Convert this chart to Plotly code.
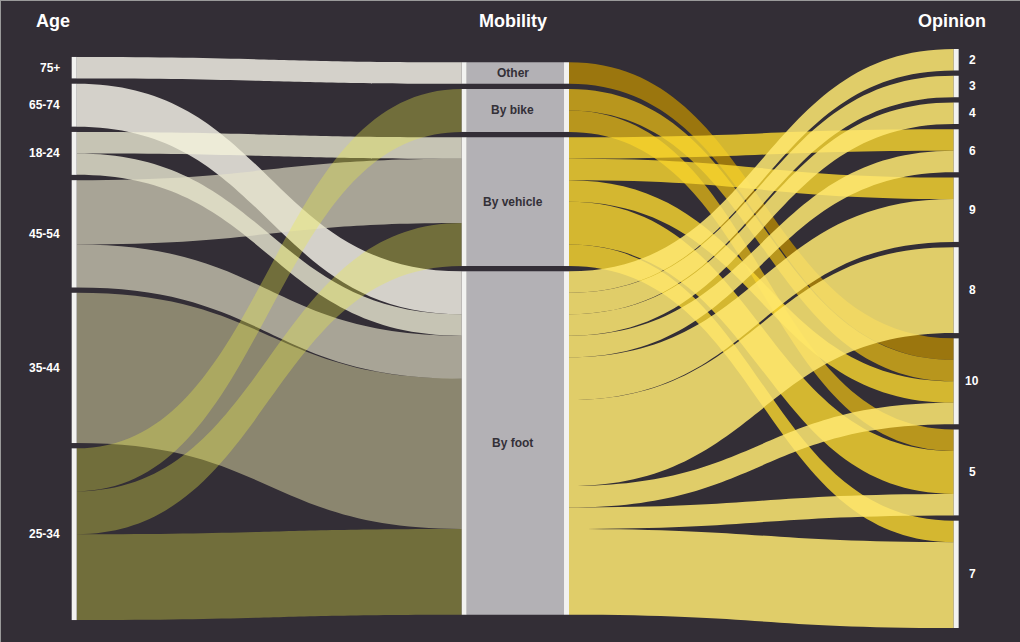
import plotly.graph_objects as go

# ---------------- data ----------------
age_labels = ["75+", "65-74", "18-24", "45-54", "35-44", "25-34"]
mobility_labels = ["Other", "By bike", "By vehicle", "By foot"]
opinion_labels = ["2", "3", "4", "6", "9", "8", "10", "5", "7"]

# Age -> Mobility flows (counts of respondents)
am_source = ["75+", "65-74", "18-24", "18-24", "45-54", "45-54", "35-44", "25-34", "25-34", "25-34"]
am_target = ["Other", "By foot", "By vehicle", "By foot", "By vehicle", "By foot", "By foot", "By bike", "By vehicle", "By foot"]
am_count = [1, 2, 1, 1, 3, 2, 7, 2, 2, 4]

# Mobility -> Opinion flows
mo_source = ["Other", "By bike", "By bike",
             "By vehicle", "By vehicle", "By vehicle", "By vehicle", "By vehicle",
             "By foot", "By foot", "By foot", "By foot", "By foot", "By foot", "By foot", "By foot", "By foot"]
mo_target = ["10", "10", "5",
             "6", "9", "10", "5", "7",
             "2", "3", "4", "6", "9", "8", "10", "5", "7"]
mo_count = [1, 1, 1,
            1, 1, 1, 2, 1,
            1, 1, 1, 1, 2, 4, 1, 1, 4]

# ---------------- styles ----------------
BG = "#332e36"
NODE_COLOR = "#f2f2f0"
MID_COLOR = "#b3b1b5"
age_colors = {
    "75+": "rgba(245,243,232,0.83)",
    "65-74": "rgba(245,243,232,0.83)",
    "18-24": "rgba(245,243,220,0.76)",
    "45-54": "rgba(230,228,201,0.655)",
    "35-44": "rgba(220,215,165,0.52)",
    "25-34": "rgba(235,235,70,0.34)",
}
mob_colors = {
    "Other": "rgba(181,136,5,0.8)",
    "By bike": "rgba(217,176,24,0.8)",
    "By vehicle": "rgba(252,217,47,0.8)",
    "By foot": "rgba(255,233,114,0.85)",
}
FONT = "Liberation Sans, Arial, sans-serif"

W_FIG, H_FIG = 1020, 642
M_L, M_R, M_T, M_B = 60, 50, 49, 14
PW = W_FIG - M_L - M_R
PH = H_FIG - M_T - M_B
PAD = 5.3
THICK = 5
X_AGE, X_MIN, X_MOUT, X_OP = 0.0156, 0.4442, 0.5566, 0.9848
X_MIDLABEL = (512.5 - M_L) / PW

# ---------------- nodes ----------------
def totals(names, keys, counts):
    return [sum(c for k, c in zip(keys, counts) if k == n) for n in names]

age_vals = totals(age_labels, am_source, am_count)
mob_vals = totals(mobility_labels, am_target, am_count)
op_vals = totals(opinion_labels, mo_target, mo_count)

n_total = sum(op_vals)
max_nodes = max(len(age_labels), len(mobility_labels), len(opinion_labels))
ky = (PH - (max_nodes - 1) * PAD) / n_total


def centers(vals):
    extent = ky * sum(vals) + (len(vals) - 1) * PAD
    y = (PH - extent) / 2
    out = []
    for v in vals:
        out.append((y + ky * v / 2) / PH)
        y += ky * v + PAD
    return out

age_y = centers(age_vals)
mob_y = centers(mob_vals)
op_y = centers(op_vals)

node_labels = age_labels + mobility_labels + mobility_labels + opinion_labels
node_x = ([X_AGE] * len(age_labels) + [X_MIN] * len(mobility_labels)
          + [X_MOUT] * len(mobility_labels) + [X_OP] * len(opinion_labels))
node_y = age_y + mob_y + mob_y + op_y

i_age = {n: i for i, n in enumerate(age_labels)}
o1 = len(age_labels)
i_min = {n: o1 + i for i, n in enumerate(mobility_labels)}
o2 = o1 + len(mobility_labels)
i_mout = {n: o2 + i for i, n in enumerate(mobility_labels)}
o3 = o2 + len(mobility_labels)
i_op = {n: o3 + i for i, n in enumerate(opinion_labels)}

src, tgt, val, col = [], [], [], []
# middle gray bars
for n, v in zip(mobility_labels, mob_vals):
    src.append(i_min[n]); tgt.append(i_mout[n]); val.append(v); col.append(MID_COLOR)
# age -> mobility (drawn in age order)
for a in age_labels:
    for s, t, c in zip(am_source, am_target, am_count):
        if s == a:
            src.append(i_age[s]); tgt.append(i_min[t]); val.append(c); col.append(age_colors[s])
# mobility -> opinion
for m in mobility_labels:
    for s, t, c in zip(mo_source, mo_target, mo_count):
        if s == m:
            src.append(i_mout[s]); tgt.append(i_op[t]); val.append(c); col.append(mob_colors[s])

fig = go.Figure(go.Sankey(
    arrangement="fixed",
    node=dict(
        label=node_labels,
        x=node_x,
        y=node_y,
        pad=PAD,
        thickness=THICK,
        color=NODE_COLOR,
        line=dict(width=0, color=NODE_COLOR),
    ),
    link=dict(source=src, target=tgt, value=val, color=col),
    textfont=dict(color="rgba(0,0,0,0)", size=1),
))

# ---------------- labels ----------------
ann = []
lab_font = dict(family=FONT, size=12, color="#ffffff", weight="bold")
for n, y in zip(age_labels, age_y):
    ann.append(dict(text=n, x=(62 - M_L) / PW, y=1 - y, xref="paper", yref="paper",
                    xanchor="right", yanchor="middle", showarrow=False, font=lab_font))
for n, y in zip(opinion_labels, op_y):
    ann.append(dict(text=n, x=(972 - M_L) / PW, y=1 - y, xref="paper", yref="paper",
                    xanchor="center", yanchor="middle", showarrow=False, font=lab_font))
for n, y in zip(mobility_labels, mob_y):
    ann.append(dict(text=n, x=X_MIDLABEL, y=1 - y, xref="paper", yref="paper",
                    xanchor="center", yanchor="middle", showarrow=False,
                    font=dict(family=FONT, size=12, color="#333038", weight="bold")))

title_font = dict(family=FONT, size=18, color="#ffffff", weight="bold")
ty = 1 + (M_T - 20.5) / PH
ann.append(dict(text="Age", x=(34 - M_L) / PW, y=ty, xref="paper", yref="paper",
                xanchor="left", yanchor="middle", showarrow=False, font=title_font))
ann.append(dict(text="Mobility", x=X_MIDLABEL, y=ty, xref="paper", yref="paper",
                xanchor="center", yanchor="middle", showarrow=False, font=title_font))
ann.append(dict(text="Opinion", x=(988 - M_L) / PW, y=ty, xref="paper", yref="paper",
                xanchor="right", yanchor="middle", showarrow=False, font=title_font))

fig.update_layout(
    width=W_FIG, height=H_FIG,
    margin=dict(l=M_L, r=M_R, t=M_T, b=M_B),
    paper_bgcolor=BG, plot_bgcolor=BG,
    font=dict(family=FONT, color="#ffffff"),
    annotations=ann,
    shapes=[
        dict(type="line", xref="paper", yref="paper",
             x0=-M_L / PW, x1=(W_FIG - M_L) / PW, y0=1 + M_T / PH, y1=1 + M_T / PH,
             line=dict(color="#9a9a9a", width=2)),
        dict(type="line", xref="paper", yref="paper",
             x0=-M_L / PW, x1=-M_L / PW, y0=-M_B / PH, y1=1 + M_T / PH,
             line=dict(color="#9a9a9a", width=2)),
    ],
)

fig.write_html(
    "out.html",
    config={"displayModeBar": False},
    post_script="document.body.style.margin='0px';document.body.style.background='" + BG + "';",
)
